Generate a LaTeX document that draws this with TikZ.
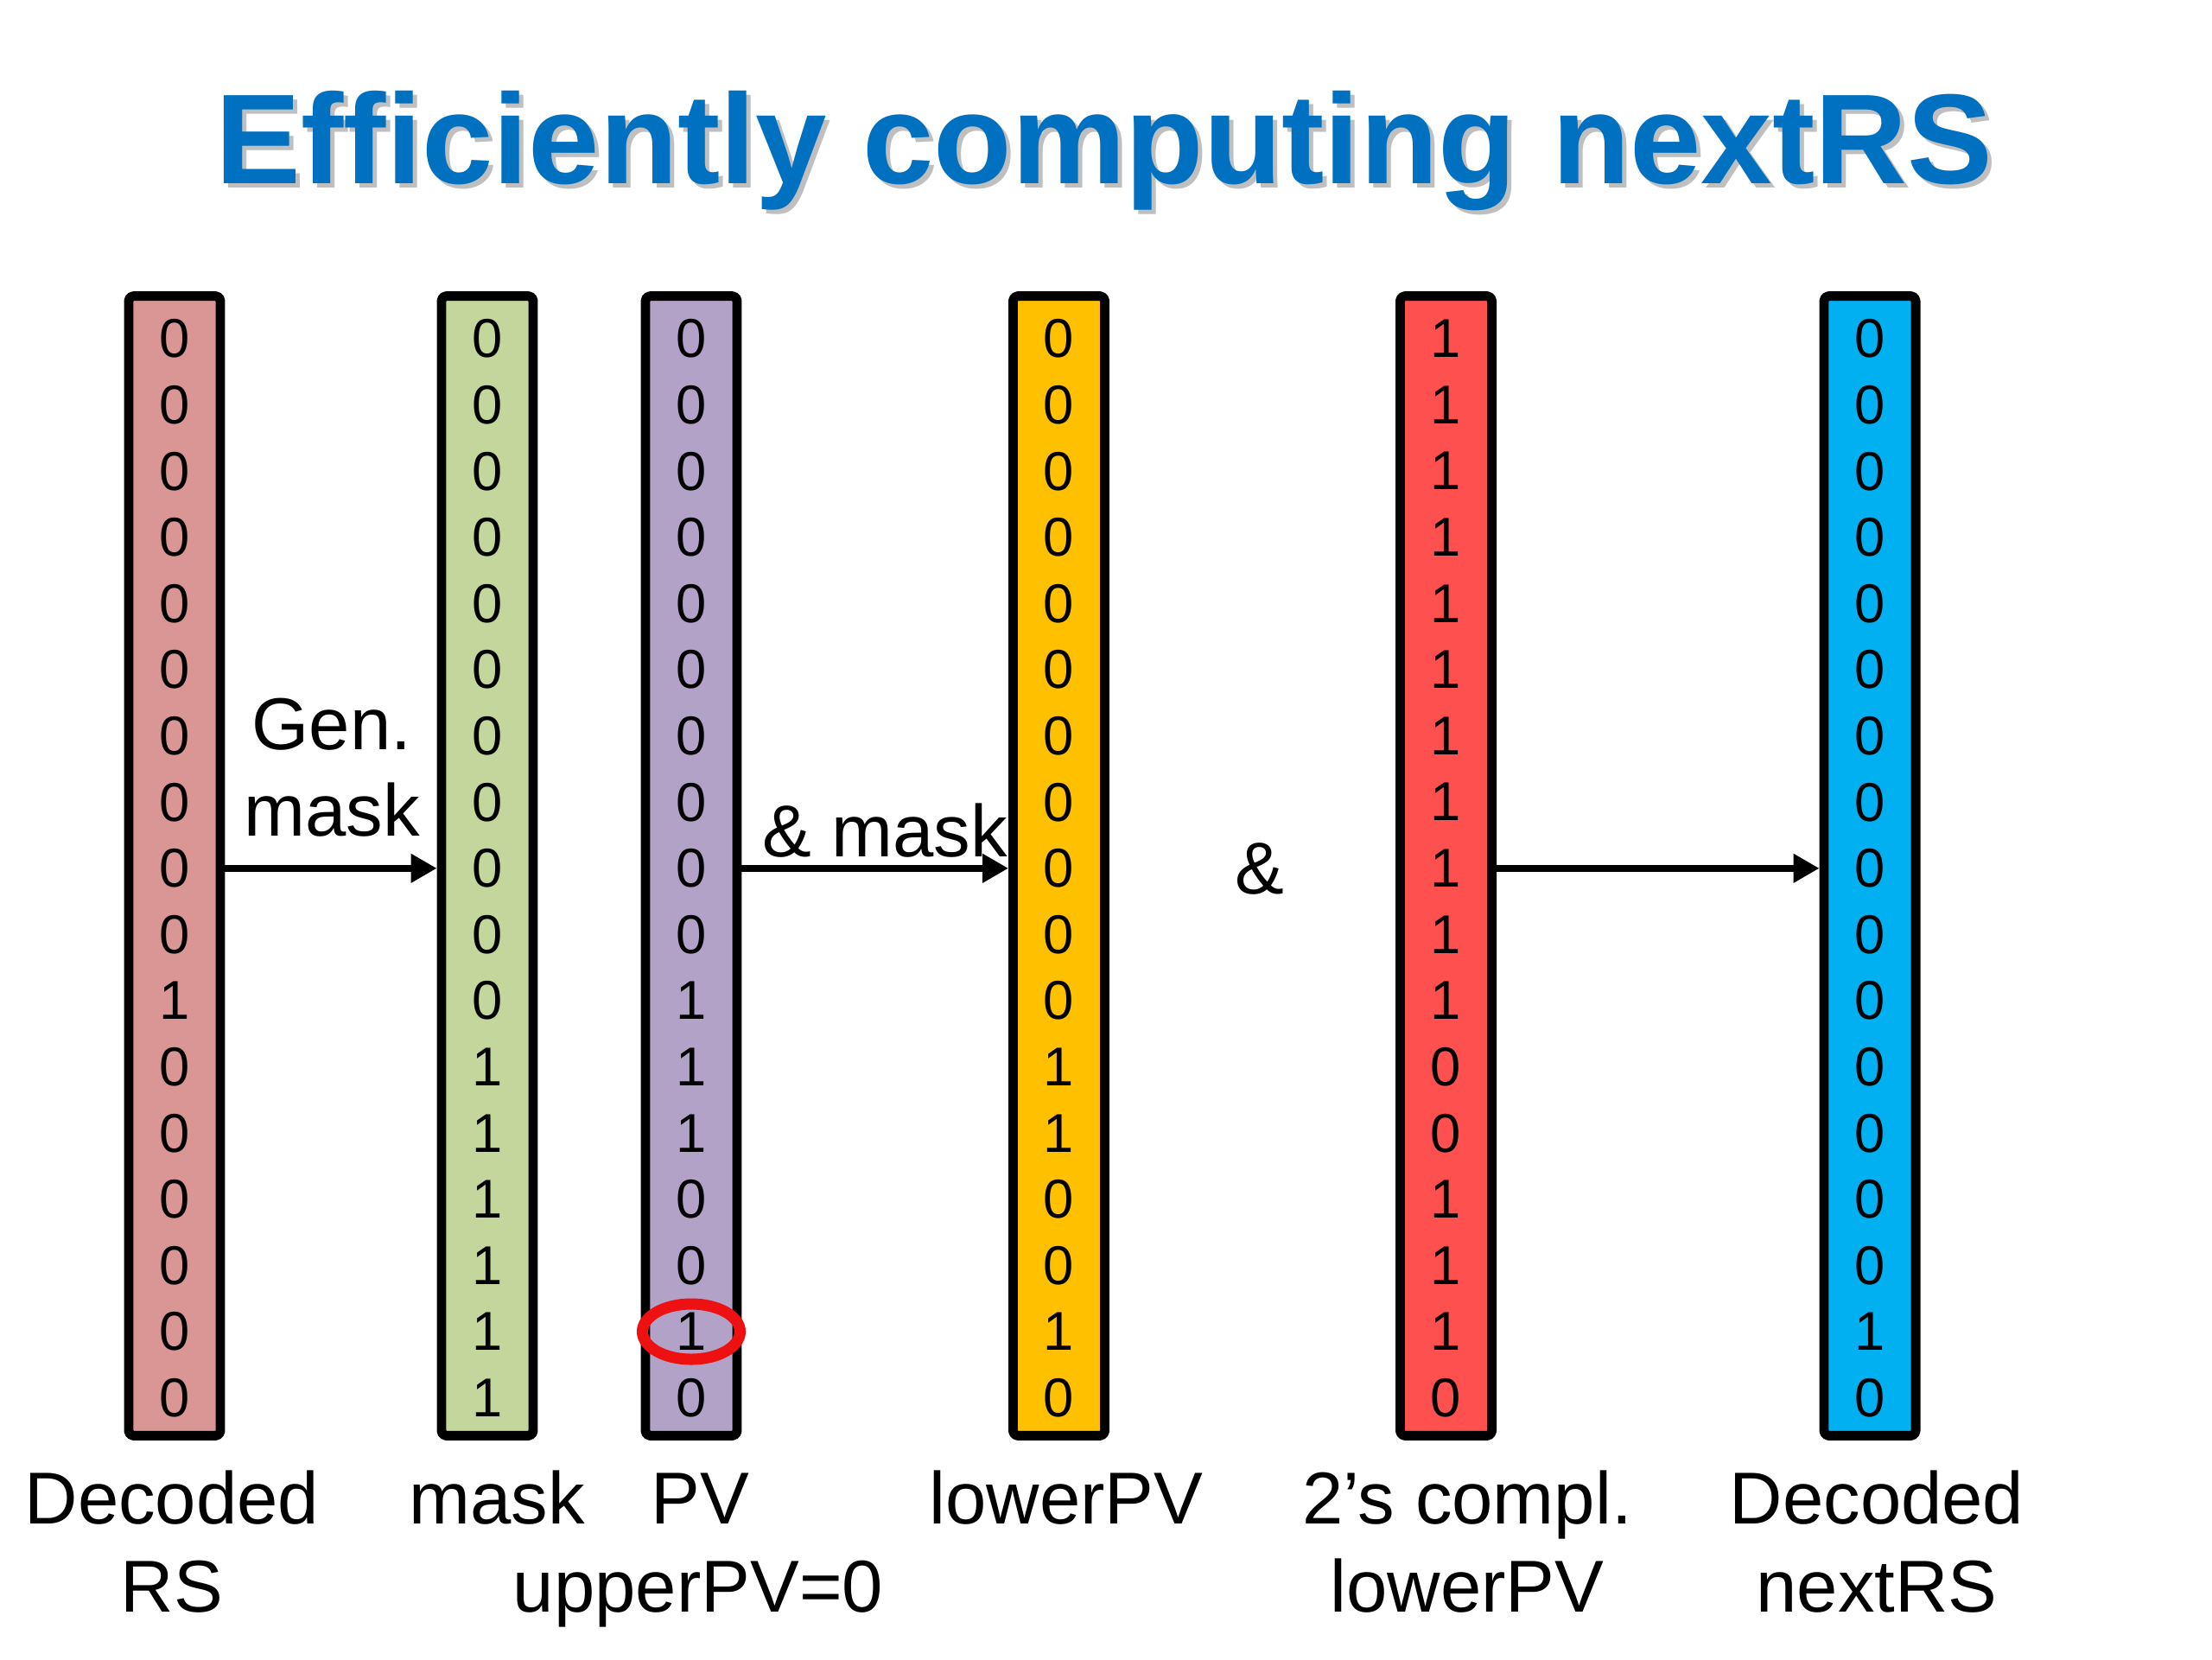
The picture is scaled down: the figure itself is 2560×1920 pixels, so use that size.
\documentclass[tikz,border=0pt]{standalone}
\usepackage{fontspec}
\setmainfont{Liberation Sans}
\usetikzlibrary{arrows.meta,shapes.geometric}
\definecolor{ttlblue}{HTML}{0070C0}
\definecolor{cpink}{HTML}{D99694}
\definecolor{cgreen}{HTML}{C3D69B}
\definecolor{cpurple}{HTML}{B3A2C7}
\definecolor{cyellow}{HTML}{FFC000}
\definecolor{cred}{HTML}{FF5050}
\definecolor{cblue}{HTML}{00B0F0}
\definecolor{ringred}{HTML}{EE1111}
\tikzset{
  colbox/.style={draw=black, line width=3.1pt, minimum width=1.06cm, minimum height=13.18cm, inner sep=0pt, line join=round, rounded corners=1.5pt},
  bit/.style={inner sep=0pt, font=\fontsize{18}{18}\selectfont},
  lbl/.style={inner sep=0pt, anchor=base, font=\fontsize{24.2}{24.2}\selectfont},
  conn/.style={line width=2.4pt, -{Triangle[length=0.30cm, width=0.32cm]}},
}
\begin{document}
\begin{tikzpicture}[x=0.01cm, y=-0.01cm]
\useasboundingbox[fill=white] (0,0) rectangle (2560,1920);
% title with soft shadow
\node[inner sep=0pt, anchor=base, text=black!25, font=\fontsize{42.1}{42.1}\selectfont\bfseries] (titleshadow) at (1283,217) {Efficiently computing nextRS};
\node[inner sep=0pt, anchor=base, text=ttlblue, font=\fontsize{42.1}{42.1}\selectfont\bfseries] (title) at (1278,212) {Efficiently computing nextRS};
% columns
\node[colbox, fill=cpink] (rs) at (202,1002) {};
\node[colbox, fill=cgreen] (mask) at (564,1002) {};
\node[colbox, fill=cpurple] (pv) at (800,1002) {};
\node[colbox, fill=cyellow] (lpv) at (1225.5,1002) {};
\node[colbox, fill=cred] (cpl) at (1673.5,1002) {};
\node[colbox, fill=cblue] (nrs) at (2164,1002) {};
% bits
\foreach \b [count=\i] in {0,0,0,0,0,0,0,0,0,0,1,0,0,0,0,0,0}
  \node[bit] (rs-\i) at (202,{392+(\i-1)*76.6}) {\b};
\foreach \b [count=\i] in {0,0,0,0,0,0,0,0,0,0,0,1,1,1,1,1,1}
  \node[bit] (mask-\i) at (564,{392+(\i-1)*76.6}) {\b};
\foreach \b [count=\i] in {0,0,0,0,0,0,0,0,0,0,1,1,1,0,0,1,0}
  \node[bit] (pv-\i) at (800,{392+(\i-1)*76.6}) {\b};
\foreach \b [count=\i] in {0,0,0,0,0,0,0,0,0,0,0,1,1,0,0,1,0}
  \node[bit] (lpv-\i) at (1225.5,{392+(\i-1)*76.6}) {\b};
\foreach \b [count=\i] in {1,1,1,1,1,1,1,1,1,1,1,0,0,1,1,1,0}
  \node[bit] (cpl-\i) at (1673.5,{392+(\i-1)*76.6}) {\b};
\foreach \b [count=\i] in {0,0,0,0,0,0,0,0,0,0,0,0,0,0,0,1,0}
  \node[bit] (nrs-\i) at (2164,{392+(\i-1)*76.6}) {\b};
% highlighted bit
\node[ellipse, draw=ringred, line width=3.7pt, minimum width=1.13cm, minimum height=0.64cm, inner sep=0pt] (ring) at (pv-16) {};
% arrows
\draw[conn] (rs.east |- rs-9) -- (mask.west |- rs-9);
\draw[conn] (pv.east |- rs-9) -- (lpv.west |- rs-9);
\draw[conn] (cpl.east |- rs-9) -- (nrs.west |- rs-9);
% operation labels
\node[lbl] (gen) at (384,867) {Gen.};
\node[lbl] (genmask) at (384,967) {mask};
\node[lbl] (andmask) at (1024,991) {\& mask};
\node[lbl] (andop) at (1458,1034) {\&};
% bottom labels
\node[lbl] (l1a) at (199,1763) {Decoded};
\node[lbl] (l1b) at (199,1865) {RS};
\node[lbl] (l2a) at (575,1763) {mask};
\node[lbl] (l3a) at (810,1763) {PV};
\node[lbl] (l3b) at (808,1865) {upperPV=0};
\node[lbl] (l4a) at (1234,1763) {lowerPV};
\node[lbl] (l5a) at (1698,1763) {2’s compl.};
\node[lbl] (l5b) at (1698,1865) {lowerPV};
\node[lbl] (l6a) at (2172,1763) {Decoded};
\node[lbl] (l6b) at (2172,1865) {nextRS};
\end{tikzpicture}
\end{document}
